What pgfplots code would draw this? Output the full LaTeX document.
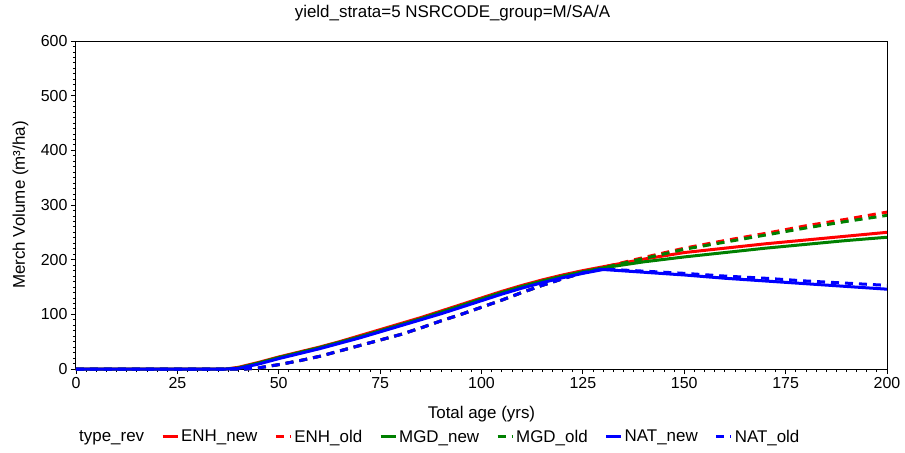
\documentclass[border=0pt]{standalone}
\usepackage{fontspec}
\setmainfont{Liberation Sans}
\usepackage{pgfplots}
\pgfplotsset{compat=1.18}
\definecolor{cRed}{RGB}{255,0,0}
\definecolor{cGreen}{RGB}{0,128,0}
\definecolor{cBlue}{RGB}{0,0,255}
\begin{document}
\begin{tikzpicture}
\useasboundingbox (-76bp,-84bp) rectangle (829bp,369bp);
\begin{axis}[
  at={(0,0)}, anchor=south west,
  scale only axis, width=811bp, height=328bp,
  xmin=0, xmax=200, ymin=0, ymax=600,
  xtick={0,25,...,200}, ytick={0,100,...,600},
  minor x tick num=9, minor y tick num=9,
  tick align=outside, xtick pos=left, ytick pos=left,
  major tick length=5bp, minor tick length=3bp,
  every tick/.style={black, line width=0.8bp},
  axis line style={black, line width=1bp},
  tick label style={font=\fontsize{16}{18}\selectfont},
  /pgf/number format/assume math mode=true,
  clip=false,
  title={yield\_strata=5 NSRCODE\_group=M/SA/A},
  title style={at={(axis description cs:0.4642,1.052)}, anchor=base, font=\fontsize{17}{20}\selectfont},
  xlabel={Total age (yrs)},
  xlabel style={at={(axis description cs:0.5,-0.1524)}, anchor=base, font=\fontsize{17}{20}\selectfont},
  ylabel={Merch Volume (m³/ha)},
  ylabel style={at={(axis description cs:-0.0684,0.5)}, anchor=center, rotate=0, font=\fontsize{17}{20}\selectfont},
  legend columns=7,
  legend image code/.code={\draw[#1] (0bp,0bp) -- (15bp,0bp);},
  legend style={draw=none, fill=none, at={(0.448,-0.207)}, anchor=center,
    font=\fontsize{17}{20}\selectfont,
    /tikz/every even column/.append style={column sep=15bp}},
]
\addlegendimage{empty legend}
\addlegendentry{type\_rev}
% ENH_new
\addplot[cRed, line width=3bp] coordinates {
(0,0) (37,0) (40,3) (45,12) (50,22) (55,31) (60,40) (65,50) (70,61) (75,72) (80,83) (85,94) (90,106) (95,118) (100,130) (105,142) (110,153) (115,163) (120,172) (125,180) (130,187) (140,201) (150,213) (160,221) (170,229) (180,236) (190,243) (200,250)};
\addlegendentry{ENH\_new}
% ENH_old
\addplot[cRed, line width=3bp, dash pattern=on 8bp off 6bp] coordinates {
(0,0) (42,0) (45,2) (50,8) (55,15) (60,23) (65,33) (70,43) (75,53) (80,63) (85,75) (90,88) (95,100) (100,113) (105,126) (110,140) (115,153) (120,165) (125,176) (130,186) (140,204) (150,221) (160,235) (170,248) (180,262) (190,274) (200,287)};
\addlegendentry{ENH\_old}
% MGD_new
\addplot[cGreen, line width=3bp] coordinates {
(0,0) (37,0) (40,2) (45,11) (50,21) (55,30) (60,39) (65,49) (70,59) (75,70) (80,81) (85,92) (90,104) (95,116) (100,128) (105,140) (110,151) (115,161) (120,170) (125,178) (130,185) (140,196) (150,205) (160,213) (170,221) (180,228) (190,235) (200,241)};
\addlegendentry{MGD\_new}
% MGD_old
\addplot[cGreen, line width=3bp, dash pattern=on 8bp off 6bp] coordinates {
(0,0) (42,0) (45,2) (50,8) (55,15) (60,23) (65,33) (70,43) (75,53) (80,63) (85,75) (90,88) (95,100) (100,113) (105,126) (110,140) (115,153) (120,165) (125,176) (130,185) (140,202) (150,219) (160,232) (170,245) (180,258) (190,270) (200,281)};
\addlegendentry{MGD\_old}
% NAT_new
\addplot[cBlue, line width=3bp] coordinates {
(0,0) (37,0) (40,1) (45,9) (50,19) (55,28) (60,37) (65,47) (70,57) (75,68) (80,79) (85,90) (90,101) (95,113) (100,125) (105,137) (110,148) (115,158) (120,167) (125,175) (130,182) (140,177) (150,172) (160,166) (170,161) (180,156) (190,151) (200,146)};
\addlegendentry{NAT\_new}
% NAT_old
\addplot[cBlue, line width=3bp, dash pattern=on 8bp off 6bp] coordinates {
(0,0) (42,0) (45,2) (50,8) (55,15) (60,23) (65,33) (70,43) (75,53) (80,63) (85,75) (90,88) (95,100) (100,113) (105,126) (110,140) (115,153) (120,165) (125,176) (130,183) (140,179) (150,175) (160,170) (170,166) (180,161) (190,157) (200,153)};
\addlegendentry{NAT\_old}
\end{axis}
\end{tikzpicture}
\end{document}
